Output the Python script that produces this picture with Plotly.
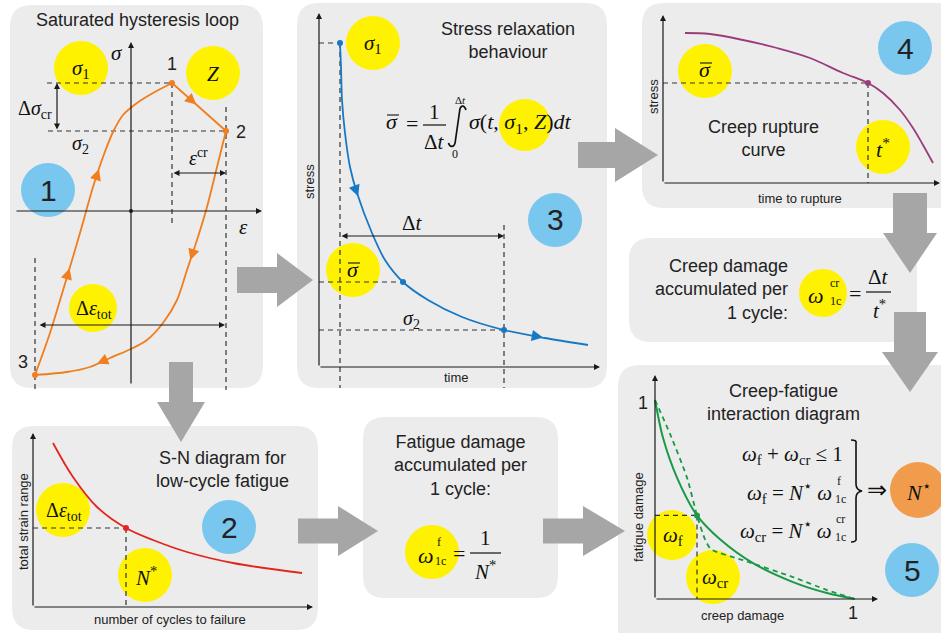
import math
import plotly.graph_objects as go

W, H = 941, 633

# ---------------- data (arbitrary units) ----------------
# Panel 1: saturated hysteresis loop
loop_up_strain = [-0.96, -0.81, -0.64, -0.51, -0.38, -0.28, -0.18, -0.08, 0.06, 0.22, 0.41]
loop_up_stress = [-1.64, -1.22, -0.66, -0.22, 0.24, 0.54, 0.79, 0.96, 1.08, 1.18, 1.28]
hold_strain = [0.41, 0.95]
hold_stress = [1.28, 0.80]
loop_down_strain = [0.95, 0.86, 0.76, 0.66, 0.56, 0.46, 0.32, 0.16, 0.02, -0.21, -0.41, -0.64, -0.96]
loop_down_stress = [0.80, 0.44, 0.04, -0.29, -0.59, -0.89, -1.12, -1.29, -1.37, -1.47, -1.56, -1.61, -1.64]
loop_point_labels = ["1", "2", "3"]

# Panel 2: S-N diagram for low-cycle fatigue
sn_cycles = [0.20, 0.40, 0.64, 0.93, 1.20, 1.54, 2.00, 2.69]
sn_strain = [1.64, 1.30, 1.00, 0.79, 0.67, 0.55, 0.44, 0.34]
sn_idx = 3

# Panel 3: stress relaxation behaviour
relax_time = [0.21, 0.22, 0.23, 0.26, 0.31, 0.38, 0.53, 0.66, 0.84, 1.09, 1.43, 1.85, 2.26, 2.69]
relax_stress = [3.24, 3.00, 2.67, 2.34, 2.00, 1.74, 1.34, 1.07, 0.85, 0.67, 0.50, 0.37, 0.29, 0.22]
relax_mean_idx = 8
relax_end_idx = 11

# Panel 4: creep rupture curve
rupture_time = [0.22, 0.47, 0.80, 1.14, 1.47, 1.80, 2.05, 2.20, 2.37, 2.50, 2.60, 2.70]
rupture_stress = [1.50, 1.49, 1.43, 1.35, 1.25, 1.10, 1.00, 0.90, 0.73, 0.55, 0.38, 0.20]
rupture_idx = 6

# Panel 5: creep-fatigue interaction diagram
cf_creep = [0, 0.04, 0.11, 0.21, 0.325, 0.49, 0.69, 0.86, 1]
cf_fatigue = [1, 0.81, 0.61, 0.42, 0.30, 0.18, 0.085, 0.03, 0]
bil_creep = [0, 0.075, 0.16, 0.21, 0.25, 0.28, 0.44, 0.69, 0.86, 1]
bil_fatigue = [1, 0.83, 0.61, 0.42, 0.30, 0.25, 0.195, 0.11, 0.045, 0]
cf_idx = 3

# ---------------- styles ----------------
SANS = "Liberation Sans, Arial, sans-serif"
SERIF = "Liberation Serif, Times New Roman, serif"
TXT = "#222222"
BOX = "#ececec"
YEL = "#fff200"
BLUE = "#79c6ef"
ORNG = "#f09c4c"
GREY = "#a6a6a6"
C_LOOP = "#f07d1e"
C_RELAX = "#1778c4"
C_RUPT = "#9a3c7c"
C_SN = "#e3261d"
C_CF = "#1a9a46"
DASH = "5px,4px"


def PX(x):
    return x / W


def PY(y):
    return 1 - y / H


# subplot frames: suffix, origin pixel, px per unit, domain box (pixels)
specs = {
    "": ((131, 211), (100, 100), (8, 26, 270, 392)),
    "2": ((33, 607), (100, 100), (10, 425, 318, 630)),
    "3": ((319, 367), (100, 100), (297, 5, 607, 392)),
    "4": ((663, 183), (100, 100), (640, 5, 941, 205)),
    "5": ((655, 599), (200, 199), (620, 368, 941, 630)),
}

layout_axes = {}
for suf, ((ox, oy), (sx, sy), (x0, y0, x1, y1)) in specs.items():
    layout_axes["xaxis" + suf] = dict(domain=[PX(x0), PX(x1)], range=[(x0 - ox) / sx, (x1 - ox) / sx],
                                      visible=False, anchor="y" + suf, fixedrange=True)
    layout_axes["yaxis" + suf] = dict(domain=[PY(y1), PY(y0)], range=[(oy - y1) / sy, (oy - y0) / sy],
                                      visible=False, anchor="x" + suf, fixedrange=True)


def dx(suf, px):
    (ox, oy), (sx, sy), _ = specs[suf]
    return (px - ox) / sx


def dy(suf, py):
    (ox, oy), (sx, sy), _ = specs[suf]
    return (oy - py) / sy


fig = go.Figure()


def line(suf, xs, ys, color, width=1.8, dash=None, shape="linear", smoothing=1.0):
    fig.add_trace(go.Scatter(x=xs, y=ys, xaxis="x" + suf, yaxis="y" + suf, mode="lines",
                             line=dict(color=color, width=width, dash=dash, shape=shape,
                                       smoothing=smoothing if shape == "spline" else None),
                             hoverinfo="skip", showlegend=False))


def dots(suf, xs, ys, color, size=6):
    fig.add_trace(go.Scatter(x=xs, y=ys, xaxis="x" + suf, yaxis="y" + suf, mode="markers",
                             marker=dict(color=color, size=size), hoverinfo="skip", showlegend=False))


def guide(suf, xs, ys):
    line(suf, xs, ys, "#333333", width=1.2, dash=DASH)


annotations = []
shapes = []


def axis_arrow(suf, x0, y0, x1, y1, both=False, width=1.2):
    a = dict(x=x1, y=y1, ax=x0, ay=y0, xref="x" + suf, yref="y" + suf, axref="x" + suf, ayref="y" + suf,
             showarrow=True, arrowhead=2, arrowsize=1, arrowwidth=width, arrowcolor="#1a1a1a", text="",
             standoff=0, startstandoff=0)
    if both:
        a.update(arrowside="end+start", startarrowhead=2, startarrowsize=1)
    annotations.append(a)


def curve_arrow(suf, xs, ys, i, frac, color):
    (_, _), (sx, sy), _ = specs[suf]
    x = xs[i] + frac * (xs[i + 1] - xs[i])
    y = ys[i] + frac * (ys[i + 1] - ys[i])
    ddx = (xs[i + 1] - xs[i]) * sx
    ddy = -(ys[i + 1] - ys[i]) * sy
    n = math.hypot(ddx, ddy)
    ux, uy = ddx / n, ddy / n
    annotations.append(dict(x=x, y=y, xref="x" + suf, yref="y" + suf, ax=-ux * 10, ay=-uy * 10,
                            showarrow=True, arrowhead=2, arrowsize=1.5, arrowwidth=1.5,
                            arrowcolor=color, text="", standoff=0))


def T(text, x, y, size=18, family=SANS, color=TXT, **kw):
    d = dict(text=text, x=PX(x), y=PY(y), xref="paper", yref="paper", showarrow=False,
             font=dict(size=size, family=family, color=color), xanchor="center", yanchor="middle")
    d.update(kw)
    annotations.append(d)


def M(text, x, y, size=21, **kw):
    T(text, x, y, size=size, family=SERIF, color="#111111", **kw)


def circ(cx, cy, r, color):
    shapes.append(dict(type="circle", xref="paper", yref="paper", x0=PX(cx - r), x1=PX(cx + r),
                       y0=PY(cy + r), y1=PY(cy - r), fillcolor=color, line=dict(width=0), layer="below"))


def rrect(x0, y0, x1, y1, r=22):
    p = (f"M {PX(x0 + r)},{PY(y0)} L {PX(x1 - r)},{PY(y0)} Q {PX(x1)},{PY(y0)} {PX(x1)},{PY(y0 + r)} "
         f"L {PX(x1)},{PY(y1 - r)} Q {PX(x1)},{PY(y1)} {PX(x1 - r)},{PY(y1)} "
         f"L {PX(x0 + r)},{PY(y1)} Q {PX(x0)},{PY(y1)} {PX(x0)},{PY(y1 - r)} "
         f"L {PX(x0)},{PY(y0 + r)} Q {PX(x0)},{PY(y0)} {PX(x0 + r)},{PY(y0)} Z")
    shapes.append(dict(type="path", path=p, xref="paper", yref="paper", fillcolor=BOX,
                       line=dict(width=0), layer="below"))


def poly(pts, color=GREY, layer="below"):
    p = "M " + " L ".join(f"{PX(x)},{PY(y)}" for x, y in pts) + " Z"
    shapes.append(dict(type="path", path=p, xref="paper", yref="paper", fillcolor=color,
                       line=dict(width=0), layer=layer))


def right_arrow(x0, xh, xt, yc, bh=13, hh=26):
    poly([(x0, yc - bh), (xh, yc - bh), (xh, yc - hh), (xt, yc), (xh, yc + hh), (xh, yc + bh), (x0, yc + bh)])


def down_arrow(xc, y0, yh, yt, bw=13, hw=26):
    poly([(xc - bw, y0), (xc - bw, yh), (xc - hw, yh), (xc, yt), (xc + hw, yh), (xc + bw, yh), (xc + bw, y0)])


def pline(x0, y0, x1, y1, w=1.2):
    shapes.append(dict(type="line", xref="paper", yref="paper", x0=PX(x0), y0=PY(y0), x1=PX(x1), y1=PY(y1),
                       line=dict(color="#111111", width=w), layer="above"))


def ppath(cmds, w=1.6):
    # cmds: list of (letter, [(x, y), ...]) in pixels
    parts = []
    for letter, pts in cmds:
        parts.append(letter + " " + " ".join(f"{PX(x)},{PY(y)}" for x, y in pts))
    shapes.append(dict(type="path", path=" ".join(parts), xref="paper", yref="paper",
                       line=dict(color="#111111", width=w), layer="above"))


def sigma_bar(x, y, size=22):
    # x, y: visual centre of the sigma glyph
    M("<i>σ</i>", x, y - 4, size=size)
    pline(x - 5, y - 10, x + 7, y - 10, w=1.1)


# ---------------- panel boxes ----------------
rrect(10, 5, 263, 388)
rrect(297, 3, 607, 388)
rrect(642, 3, 965, 208)
rrect(629, 238, 917, 342)
rrect(12, 426, 318, 630)
rrect(363, 417, 558, 598)
rrect(618, 365, 965, 650)

# ---------------- grey flow arrows ----------------
right_arrow(237, 277, 313, 280, bh=13, hh=27)
down_arrow(181, 362, 402, 442, bw=12, hw=24)
right_arrow(578, 615, 658, 155, bh=13, hh=27)
down_arrow(910, 193, 233, 273, bw=17, hw=27)
down_arrow(910, 312, 352, 392, bw=16, hw=28)
right_arrow(298, 338, 378, 531, bh=12.5, hh=25)
right_arrow(543, 583, 625, 531, bh=12.5, hh=25)

# ---------------- highlight circles ----------------
circ(81, 68, 27, YEL)      # sigma1 (panel 1)
circ(213, 73, 27, YEL)     # Z
circ(93, 308, 24, YEL)     # d eps tot
circ(48, 190, 27, BLUE)    # 1
circ(373, 43, 27, YEL)     # sigma1 (panel 3)
circ(353, 270, 27, YEL)    # sigma bar
circ(525, 125, 26, YEL)    # formula highlight
circ(555, 220, 27, BLUE)   # 3
circ(705, 71, 27, YEL)     # sigma bar (panel 4)
circ(883, 147, 27, YEL)    # t*
circ(905, 48, 27, BLUE)    # 4
circ(823, 293, 24, YEL)    # omega cr 1c
circ(63, 510, 27, YEL)     # d eps tot (panel 2)
circ(145, 575, 27, YEL)    # N*
circ(229, 527, 27, BLUE)   # 2
circ(432, 552, 27, YEL)    # omega f 1c
circ(672, 535, 25, YEL)    # omega f
circ(713, 577, 27, YEL)    # omega cr
circ(918, 490, 28, ORNG)   # N*
circ(912, 570, 27, BLUE)   # 5

# ---------------- panel 1: hysteresis loop ----------------
s1, s2 = loop_up_stress[-1], hold_stress[1]
e1, e2 = loop_up_strain[-1], hold_strain[1]
e3 = loop_up_strain[0]
guide("", [dx("", 47), e1], [s1, s1])
guide("", [dx("", 48), e2], [s2, s2])
guide("", [e1, e1], [s1, dy("", 225)])
guide("", [e2, e2], [dy("", 107), dy("", 390)])
guide("", [e3, e3], [dy("", 258), dy("", 390)])
line("", loop_up_strain, loop_up_stress, C_LOOP, shape="spline", smoothing=0.8)
line("", hold_strain, hold_stress, C_LOOP)
line("", loop_down_strain, loop_down_stress, C_LOOP, shape="spline", smoothing=0.8)
dots("", [e1, e2, e3], [s1, s2, loop_up_stress[0]], C_LOOP)
dots("", [0], [0], "#1a1a1a", size=4)
axis_arrow("", dx("", 15), 0, dx("", 262), 0)
axis_arrow("", 0, dy("", 385), 0, dy("", 42))
axis_arrow("", dx("", 57), s2, dx("", 57), s1, both=True)
axis_arrow("", e1, dy("", 173), e2, dy("", 173), both=True)
axis_arrow("", dx("", 38), dy("", 325), dx("", 225), dy("", 325), both=True)
curve_arrow("", loop_up_strain, loop_up_stress, 2, 0.2, C_LOOP)
curve_arrow("", loop_up_strain, loop_up_stress, 4, 0.6, C_LOOP)
curve_arrow("", hold_strain, hold_stress, 0, 0.45, C_LOOP)
curve_arrow("", loop_down_strain, loop_down_stress, 3, 0.67, C_LOOP)
curve_arrow("", loop_down_strain, loop_down_stress, 9, 0.65, C_LOOP)

T("Saturated hysteresis loop", 137, 20, size=18)
T(loop_point_labels[0], 172, 64, size=18)
T(loop_point_labels[1], 241, 132, size=18)
T(loop_point_labels[2], 23, 362, size=18)
T("1", 48, 190, size=30)
M("<i>σ</i>", 117, 53)
M("<i>ε</i>", 243, 227)
M("<i>σ</i><sub>1</sub>", 81, 69)
M("<i>Z</i>", 213, 74)
M("Δ<i>σ</i><sub>cr</sub>", 35, 109, size=20)
M("<i>σ</i><sub>2</sub>", 80, 145, size=20)
M("<i>ε</i><sup>cr</sup>", 198, 157, size=20)
M("Δ<i>ε</i><sub>tot</sub>", 94, 309, size=20)

# ---------------- panel 2: S-N ----------------
sn_x, sn_y = sn_cycles[sn_idx], sn_strain[sn_idx]
guide("2", [0, sn_x], [sn_y, sn_y])
guide("2", [sn_x, sn_x], [sn_y, 0])
line("2", sn_cycles, sn_strain, C_SN, shape="spline")
dots("2", [sn_x], [sn_y], C_SN)
axis_arrow("2", 0, 0, dx("2", 313), 0)
axis_arrow("2", 0, 0, 0, dy("2", 433))
T("S-N diagram for<br>low-cycle fatigue", 222, 469, size=18)
T("total strain range", 23, 522, size=13, textangle=-90)
T("number of cycles to failure", 170, 619, size=13)
T("2", 229, 527, size=30)
M("Δ<i>ε</i><sub>tot</sub>", 64, 511, size=20)
M("<i>N</i><sup>*</sup>", 146, 576, size=21)

# ---------------- panel 3: stress relaxation ----------------
t1, sg1 = relax_time[0], relax_stress[0]
tm, sgm = relax_time[relax_mean_idx], relax_stress[relax_mean_idx]
t2, sg2 = relax_time[relax_end_idx], relax_stress[relax_end_idx]
guide("3", [0, t1], [sg1, sg1])
guide("3", [t1, t1], [sg1, dy("3", 388)])
guide("3", [0, tm], [sgm, sgm])
guide("3", [0, t2], [sg2, sg2])
guide("3", [t2, t2], [dy("3", 225), dy("3", 388)])
line("3", relax_time, relax_stress, C_RELAX, shape="spline", smoothing=0.8)
dots("3", [t1, tm, t2], [sg1, sgm, sg2], C_RELAX)
axis_arrow("3", 0, 0, dx("3", 600), 0)
axis_arrow("3", 0, 0, 0, dy("3", 13))
axis_arrow("3", t1, dy("3", 236), t2, dy("3", 236), both=True)
curve_arrow("3", relax_time, relax_stress, 5, 0.08, C_RELAX)
curve_arrow("3", relax_time, relax_stress, 11, 0.95, C_RELAX)
T("Stress relaxation<br>behaviour", 508, 41, size=18)
T("stress", 310, 182, size=13, textangle=-90)
T("time", 456, 378, size=13)
T("3", 555, 220, size=30)
M("<i>σ</i><sub>1</sub>", 373, 44)
sigma_bar(353, 273)
M("Δ<i>t</i>", 412, 223, size=21)
M("<i>σ</i><sub>2</sub>", 411, 319, size=20)
# formula
sigma_bar(392, 125)
M("=", 412, 123, size=22)
M("1", 434, 112, size=21)
pline(423, 125, 446, 125)
M("Δ<i>t</i>", 434, 142, size=21)
# integral sign drawn as a stroke
ppath([("M", [(466, 110)]), ("C", [(464, 104), (460, 105), (459.5, 112)]),
       ("L", [(455.5, 140)]), ("C", [(455, 148), (450, 148), (448.5, 143)])], w=1.7)
M("Δ<i>t</i>", 460, 100, size=11)
M("0", 455, 154, size=12)
M("<i>σ</i>(<i>t</i>, <i>σ</i><sub>1</sub>, <i>Z</i>)<i>dt</i>", 467, 123, size=22, xanchor="left")

# ---------------- panel 4: creep rupture ----------------
rt, rs = rupture_time[rupture_idx], rupture_stress[rupture_idx]
guide("4", [0, rt], [rs, rs])
guide("4", [rt, rt], [rs, 0])
line("4", rupture_time, rupture_stress, C_RUPT, shape="spline")
dots("4", [rt], [rs], C_RUPT)
axis_arrow("4", 0, 0, dx("4", 940), 0)
axis_arrow("4", 0, 0, 0, dy("4", 15))
T("Creep rupture<br>curve", 763, 138, size=18)
T("stress", 653, 97, size=13, textangle=-90)
T("time to rupture", 800, 198, size=13)
T("4", 905, 48, size=30)
sigma_bar(705, 73)
M("<i>t</i><sup>*</sup>", 883, 148, size=22)

# ---------------- creep damage per cycle ----------------
T("Creep damage<br>accumulated per<br>1 cycle:", 790, 290, size=18, xanchor="right", align="right")
M("<i>ω</i>", 816, 295, size=22)
M("cr", 834, 283, size=12)
M("1c", 835, 301, size=12)
M("=", 855, 293, size=22)
M("Δ<i>t</i>", 878, 277, size=21)
pline(866, 292, 891, 292)
M("<i>t</i><sup>*</sup>", 879, 309, size=21)

# ---------------- fatigue damage per cycle ----------------
T("Fatigue damage<br>accumulated per<br>1 cycle:", 460, 465, size=18)
M("<i>ω</i>", 426, 555, size=22)
M("f", 439, 542, size=12)
M("1c", 440, 561, size=12)
M("=", 459, 553, size=22)
M("1", 485, 538, size=21)
pline(470, 553, 501, 553)
M("<i>N</i><sup>*</sup>", 485, 570, size=21)

# ---------------- panel 5: creep-fatigue interaction ----------------
cx, cy = cf_creep[cf_idx], cf_fatigue[cf_idx]
guide("5", [0, cx], [cy, cy])
guide("5", [cx, cx], [cy, 0])
line("5", bil_creep, bil_fatigue, C_CF, width=1.8, dash=DASH, shape="spline", smoothing=0.6)
line("5", cf_creep, cf_fatigue, C_CF, width=2, shape="spline", smoothing=0.8)
dots("5", [cx], [cy], C_CF)
axis_arrow("5", 0, 0, dx("5", 878), 0)
axis_arrow("5", 0, 0, 0, dy("5", 375))
T("Creep-fatigue<br>interaction diagram", 783, 402, size=18)
T("fatigue damage", 638, 517, size=13, textangle=-90)
T("creep damage", 742, 615, size=13)
T("1", 643, 403, size=18)
T("1", 853, 613, size=18)
T("5", 912, 570, size=30)
M("<i>ω</i><sub>f</sub>", 673, 536, size=21)
M("<i>ω</i><sub>cr</sub>", 715, 578, size=21)
M("<i>ω</i><sub>f</sub> + <i>ω</i><sub>cr</sub> ≤ 1", 740, 455, size=21, xanchor="left")
M("<i>ω</i><sub>f</sub> = <i>N</i><sup>⋆</sup> <i>ω</i>", 834, 492, size=21, xanchor="right")
M("f", 839, 481, size=12)
M("1c", 840, 499, size=12)
M("<i>ω</i><sub>cr</sub> = <i>N</i><sup>⋆</sup> <i>ω</i>", 834, 530, size=21, xanchor="right")
M("cr", 840, 519, size=12)
M("1c", 840, 537, size=12)
# brace
ppath([("M", [(851, 440)]), ("Q", [(857, 440), (856, 443)]), ("L", [(856, 484)]),
       ("Q", [(856, 490), (862, 491)]), ("Q", [(856, 492), (856, 498)]), ("L", [(856, 538)]),
       ("Q", [(857, 542), (851, 542)])], w=1.6)
M("⇒", 877, 490, size=24)
M("<i>N</i><sup>⋆</sup>", 918, 491, size=22)

fig.update_layout(
    width=W, height=H, margin=dict(l=0, r=0, t=0, b=0),
    paper_bgcolor="white", plot_bgcolor="rgba(0,0,0,0)",
    showlegend=False, shapes=shapes, annotations=annotations, **layout_axes,
)
fig.write_html("out.html", config={"displayModeBar": False},
               post_script="document.body.style.margin='0';document.body.style.padding='0';")
